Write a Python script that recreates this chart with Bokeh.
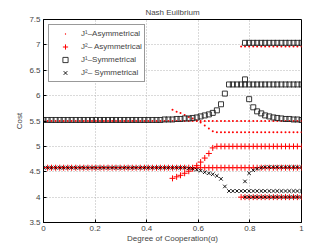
from bokeh.plotting import figure
from bokeh.models import Range1d, Legend, LegendItem, FixedTicker
from bokeh.embed import file_html
from bokeh.resources import INLINE

# ---------------- data ----------------
ALPHA = [0, .016, .031, .047, .063, .078, .094, .109, .125, .141, .156, .172, .188,
         .203, .219, .234, .25, .266, .281, .297, .313, .328, .344, .359, .375, .391,
         .406, .422, .438, .453, .469, .484, .5, .516, .531, .547, .563, .578, .594,
         .609, .625, .641, .656, .672, .688, .703, .719, .734, .75, .766, .781, .797,
         .813, .828, .844, .859, .875, .891, .906, .922, .938, .953, .969, .984, 1]

# J1 - Asymmetrical (three branches)
J1A_LOW = [5.5, 5.5, 5.5, 5.5, 5.5, 5.5, 5.5, 5.5, 5.5, 5.5, 5.5, 5.5, 5.5,
           5.5, 5.5, 5.5, 5.5, 5.5, 5.5, 5.5, 5.5, 5.5, 5.5, 5.5, 5.5, 5.5,
           5.5, 5.5, 5.5, 5.5, 5.5, 5.5, 5.5, 5.5, 5.5, 5.5, 5.5, 5.5, 5.5,
           5.5, 5.5, 5.5, 5.5, 5.5, 5.5, 5.5, 5.5, 5.5, 5.5, 5.5, 5.5, 5.5,
           5.5, 5.5, 5.5, 5.5, 5.5, 5.5, 5.5, 5.5, 5.5, 5.5, 5.5, 5.5, 5.5]
J1A_MID = [5.72, 5.68, 5.66, 5.62, 5.58, 5.55, 5.51, 5.47, 5.41, 5.35, 5.30,
           5.28, 5.28, 5.28, 5.28, 5.28, 5.28, 5.28, 5.28, 5.28, 5.28, 5.28,
           5.28, 5.28, 5.28, 5.28, 5.28, 5.28, 5.28, 5.28, 5.28, 5.28, 5.28]
J1A_HIGH = [6.97, 6.97, 6.97, 6.97, 6.97, 6.97, 6.97, 6.97,
            6.97, 6.97, 6.97, 6.97, 6.97, 6.97, 6.97, 6.97]

# J2 - Asymmetrical
J2A_LOW = [4.58, 4.58, 4.58, 4.58, 4.58, 4.58, 4.58, 4.58, 4.58, 4.58, 4.58, 4.58, 4.58,
           4.58, 4.58, 4.58, 4.58, 4.58, 4.58, 4.58, 4.58, 4.58, 4.58, 4.58, 4.58, 4.58,
           4.58, 4.58, 4.58, 4.58, 4.58, 4.58, 4.58, 4.58, 4.58, 4.58, 4.58, 4.58, 4.58,
           4.58, 4.58, 4.58, 4.58, 4.58, 4.58, 4.58, 4.58, 4.58, 4.58, 4.58, 4.58, 4.58,
           4.58, 4.58, 4.58, 4.58, 4.58, 4.58, 4.58, 4.58, 4.58, 4.58, 4.58, 4.58, 4.58]
J2A_MID = [4.37, 4.40, 4.43, 4.47, 4.51, 4.56, 4.62, 4.69, 4.77, 4.86, 4.97,
           5.0, 5.0, 5.0, 5.0, 5.0, 5.0, 5.0, 5.0, 5.0, 5.0, 5.0,
           5.0, 5.0, 5.0, 5.0, 5.0, 5.0, 5.0, 5.0, 5.0, 5.0, 5.0]
J2A_BOTTOM = [4.0, 4.0, 4.0, 4.0, 4.0, 4.0, 4.0, 4.0,
              4.0, 4.0, 4.0, 4.0, 4.0, 4.0, 4.0, 4.0]

# J1 - Symmetrical
J1S_MAIN = [5.52, 5.52, 5.52, 5.52, 5.52, 5.52, 5.52, 5.52, 5.52, 5.52,
            5.52, 5.52, 5.52, 5.52, 5.52, 5.52, 5.52, 5.52, 5.52, 5.52,
            5.52, 5.52, 5.52, 5.52, 5.52, 5.52, 5.52, 5.52, 5.52,
            5.52, 5.53, 5.53, 5.53, 5.54, 5.54, 5.55, 5.55, 5.56, 5.57,
            5.59, 5.61, 5.63, 5.66, 5.71, 5.83, 6.04,
            6.22, 6.22, 6.22, 6.22, 6.22, 6.22, 6.22, 6.22, 6.22, 6.22,
            6.22, 6.22, 6.22, 6.22, 6.22, 6.22, 6.22, 6.22, 6.22]
J1S_BRANCH = [6.32, 5.93, 5.77, 5.69, 5.65, 5.61, 5.59, 5.57,
              5.56, 5.55, 5.54, 5.54, 5.53, 5.53, 5.52]
J1S_TOP = [7.04, 7.04, 7.04, 7.04, 7.04, 7.04, 7.04, 7.04,
           7.04, 7.04, 7.04, 7.04, 7.04, 7.04, 7.04]

# J2 - Symmetrical
J2S_MAIN = [4.58, 4.58, 4.58, 4.58, 4.58, 4.58, 4.58, 4.58, 4.58, 4.58, 4.58, 4.58,
            4.58, 4.58, 4.58, 4.58, 4.58, 4.58, 4.58, 4.58, 4.58, 4.58, 4.58, 4.58,
            4.58, 4.58, 4.58, 4.58, 4.58, 4.58, 4.58, 4.58, 4.58, 4.58, 4.58, 4.58,
            4.57, 4.56, 4.54, 4.52, 4.49, 4.47, 4.45, 4.42, 4.36, 4.21,
            4.12, 4.12, 4.12, 4.12, 4.12, 4.12, 4.12, 4.12, 4.12, 4.12,
            4.12, 4.12, 4.12, 4.12, 4.12, 4.12, 4.12, 4.12, 4.12]
J2S_BRANCH = [4.31, 4.47, 4.53, 4.56, 4.58, 4.59, 4.59, 4.59,
              4.59, 4.59, 4.59, 4.59, 4.59, 4.59, 4.59]
J2S_BOTTOM = [4.0, 4.0, 4.0, 4.0, 4.0, 4.0, 4.0, 4.0,
              4.0, 4.0, 4.0, 4.0, 4.0, 4.0, 4.0]

X_TICKS = [0, 0.2, 0.4, 0.6, 0.8, 1]
X_TICK_LABELS = ["0", "0.2", "0.4", "0.6", "0.8", "1"]
Y_TICKS = [3.5, 4, 4.5, 5, 5.5, 6, 6.5, 7, 7.5]
Y_TICK_LABELS = ["3.5", "4", "4.5", "5", "5.5", "6", "6.5", "7", "7.5"]

LABELS = ["J\u00b9\u2013Asymmetrical", "J\u00b2\u2013 Asymmetrical",
          "J\u00b9\u2013Symmetrical", "J\u00b2\u2013 Symmetrical"]

# ---------------- figure ----------------
FONT = "Liberation Sans"
p = figure(width=332, height=250, output_backend="svg", toolbar_location=None,
           x_range=Range1d(0, 1), y_range=Range1d(3.5, 7.5),
           min_border_left=43, min_border_right=31, min_border_top=19, min_border_bottom=28)

p.title.text = "Nash Euilbrium"
p.title.align = "center"
p.title.text_font = FONT
p.title.text_font_size = "8px"
p.title.text_font_style = "normal"
p.title.standoff = 5
p.title.offset = 0

for ax in (p.xaxis[0], p.yaxis[0]):
    ax.major_label_text_font = FONT
    ax.major_label_text_font_size = "8px"
    ax.axis_label_text_font = FONT
    ax.axis_label_text_font_size = "8px"
    ax.axis_label_text_font_style = "normal"
    ax.major_tick_in = 3
    ax.major_tick_out = 0
    ax.minor_tick_line_color = None
    ax.axis_line_color = "black"
    ax.major_tick_line_color = "black"

p.xaxis.major_label_standoff = 3
p.yaxis.major_label_standoff = 3
p.xaxis.axis_label = "Degree of Cooperation(\u03b1)"
p.yaxis.axis_label = "Cost"
p.xaxis.axis_label_standoff = 0
p.yaxis.axis_label_standoff = 2
p.xaxis.ticker = FixedTicker(ticks=X_TICKS)
p.yaxis.ticker = FixedTicker(ticks=Y_TICKS)
p.xaxis.major_label_overrides = {t: l for t, l in zip(X_TICKS, X_TICK_LABELS)}
p.yaxis.major_label_overrides = {t: l for t, l in zip(Y_TICKS, Y_TICK_LABELS)}

for g in (p.xgrid[0], p.ygrid[0]):
    g.grid_line_color = "#b4b4b4"
    g.grid_line_dash = "1 2"
    g.grid_line_width = 1

p.outline_line_color = "black"
p.outline_line_width = 1
p.background_fill_color = "white"
p.border_fill_color = "white"

x_j1a = ALPHA + ALPHA[32:] + ALPHA[49:]
y_j1a = J1A_LOW + J1A_MID + J1A_HIGH
x_j2a = ALPHA + ALPHA[32:] + ALPHA[49:]
y_j2a = J2A_LOW + J2A_MID + J2A_BOTTOM
x_j1s = ALPHA + ALPHA[50:] + ALPHA[50:]
y_j1s = J1S_MAIN + J1S_BRANCH + J1S_TOP
x_j2s = ALPHA + ALPHA[50:] + ALPHA[50:]
y_j2s = J2S_MAIN + J2S_BRANCH + J2S_BOTTOM

r1 = p.scatter(x_j1a, y_j1a, marker="dot", size=8, line_color="red", fill_color="red")
r2 = p.scatter(x_j2a, y_j2a, marker="cross", size=6, line_color="red", line_width=1)
r3 = p.scatter(x_j1s, y_j1s, marker="square", size=5, fill_color=None,
               line_color="#222222", line_width=0.9)
r4 = p.scatter(x_j2s, y_j2s, marker="x", size=5, line_color="black", line_width=0.9)

legend = Legend(items=[LegendItem(label=LABELS[0], renderers=[r1]),
                       LegendItem(label=LABELS[1], renderers=[r2]),
                       LegendItem(label=LABELS[2], renderers=[r3]),
                       LegendItem(label=LABELS[3], renderers=[r4])],
                location="top_left")
legend.margin = 5
legend.padding = 2
legend.spacing = 0
legend.glyph_width = 28
legend.glyph_height = 13
legend.label_height = 13
legend.label_standoff = 2
legend.label_text_font = FONT
legend.label_text_font_size = "8px"
legend.border_line_color = "#333333"
legend.border_line_width = 1.5
legend.background_fill_alpha = 1
p.add_layout(legend)

open("out.html", "w").write(file_html(p, INLINE))
